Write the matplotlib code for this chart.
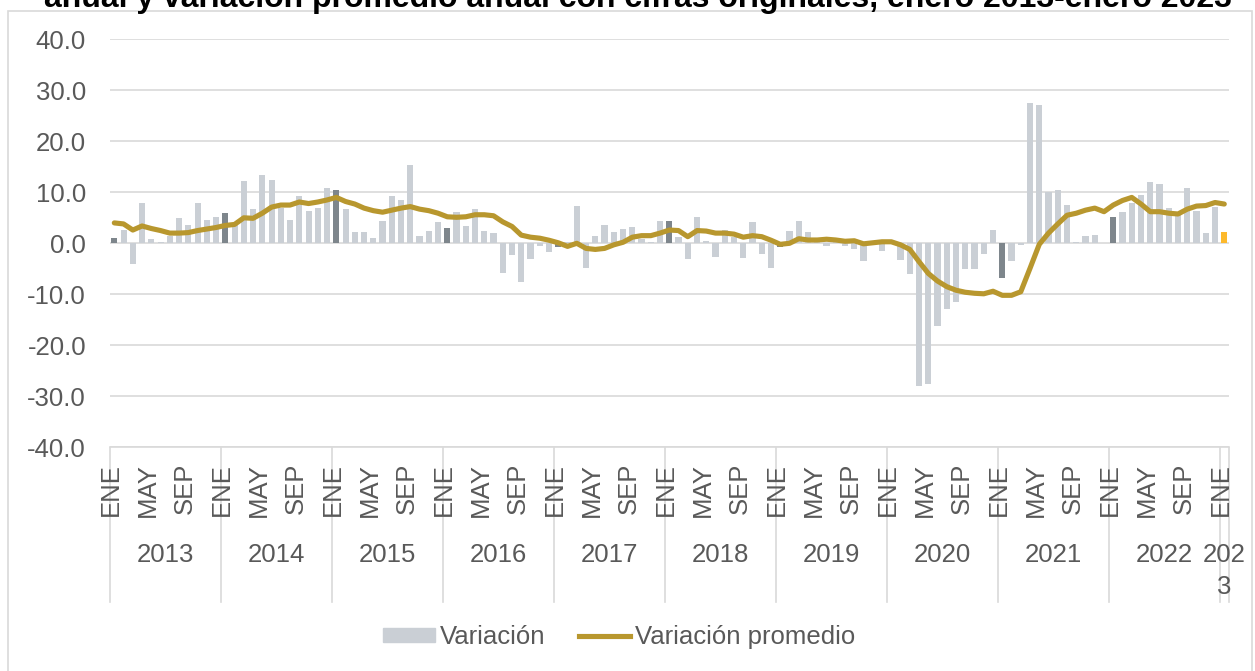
import matplotlib.pyplot as plt
from matplotlib.patches import Rectangle, Patch
from matplotlib.lines import Line2D
from matplotlib.transforms import blended_transform_factory

# Datos
anios = ['2013', '2014', '2015', '2016', '2017', '2018', '2019', '2020', '2021', '2022', '2023']
meses_etiqueta = {0: 'ENE', 4: 'MAY', 8: 'SEP'}

variacion = [
    1.0, 2.7, -4.0, 8.0, 0.9, 0.2, 1.5, 5.0, 3.6, 8.0, 4.6, 5.1,          # 2013
    5.9, 3.5, 12.2, 6.8, 13.3, 12.4, 7.0, 4.6, 9.3, 6.4, 7.0, 10.8,      # 2014
    10.5, 6.7, 2.3, 2.2, 1.0, 4.4, 9.3, 8.4, 15.4, 1.5, 2.5, 4.1,        # 2015
    3.0, 6.1, 3.4, 6.7, 2.5, 2.1, -5.8, -2.2, -7.5, -3.0, -0.5, -1.8,    # 2016
    -0.8, 0.3, 7.3, -4.9, 1.4, 3.6, 2.2, 2.9, 3.1, 0.8, 0.3, 4.4,        # 2017
    4.4, 1.2, -3.0, 5.2, 0.5, -2.6, 2.6, 1.2, -2.8, 4.1, -2.0, -4.9,     # 2018
    -0.8, 2.4, 4.3, 2.2, 0.3, -0.5, 0.2, -0.6, -1.2, -3.4, 0.3, -1.6,    # 2019
    0.2, -3.3, -6.1, -27.9, -27.6, -16.3, -12.9, -11.6, -5.0, -5.1, -2.0, 2.7,  # 2020
    -6.9, -3.4, -0.4, 27.5, 27.1, 10.0, 10.4, 7.6, 0.3, 1.5, 1.6, 0.1,   # 2021
    5.2, 6.1, 8.0, 9.5, 12.0, 11.6, 7.0, 5.5, 10.8, 6.3, 2.0, 7.1,       # 2022
    2.2,                                                                 # 2023
]

variacion_promedio = [
    4.0, 3.8, 2.6, 3.4, 2.9, 2.5, 2.0, 2.0, 2.1, 2.5, 2.8, 3.1,
    3.5, 3.7, 5.0, 4.9, 5.9, 7.1, 7.5, 7.5, 8.1, 7.8, 8.1, 8.5,
    9.0, 8.2, 7.7, 6.9, 6.4, 6.1, 6.5, 6.9, 7.2, 6.7, 6.4, 5.9,
    5.2, 5.1, 5.2, 5.6, 5.6, 5.4, 4.2, 3.3, 1.6, 1.2, 1.0, 0.6,
    0.1, -0.6, 0.0, -1.0, -1.2, -1.0, -0.3, 0.2, 1.2, 1.5, 1.5, 2.0,
    2.6, 2.5, 1.3, 2.5, 2.4, 2.0, 2.0, 1.8, 1.2, 1.5, 1.3, 0.6,
    -0.2, 0.0, 0.9, 0.65, 0.65, 0.8, 0.65, 0.4, 0.5, -0.1, 0.1, 0.3,
    0.3, -0.3, -1.2, -3.6, -5.9, -7.4, -8.5, -9.2, -9.6, -9.8, -9.9, -9.4,
    -10.2, -10.2, -9.5, -4.9, -0.2, 2.0, 3.8, 5.5, 5.9, 6.5, 6.9, 6.2,
    7.5, 8.4, 9.0, 7.7, 6.2, 6.2, 5.9, 5.75, 6.7, 7.3, 7.4, 8.0,
    7.7,
]

titulo = 'anual y variación promedio anual con cifras originales, enero 2013-enero 2023'

# Colores
gris_claro = '#CACFD5'
gris_oscuro = '#7E868C'
naranja = '#FDB92C'
dorado = '#B8972E'
texto = '#595959'
rejilla = '#D9D9D9'

n = len(variacion)
x = list(range(n))
colores = []
for i in x:
    if i == n - 1:
        colores.append(naranja)
    elif i % 12 == 0:
        colores.append(gris_oscuro)
    else:
        colores.append(gris_claro)

plt.rcParams['font.family'] = ['Liberation Sans', 'DejaVu Sans']

fig = plt.figure(figsize=(12.55, 6.71), dpi=100)
ax = fig.add_axes([0.0874, 0.3334, 0.8918, 0.608])

# Marco del grafico
fig.add_artist(Rectangle((8 / 1255, -0.05), 1244 / 1255, 0.05 + 1 - 11 / 671,
                         transform=fig.transFigure, fill=False, edgecolor=rejilla, lw=1.2))

# Titulo (cortado arriba, como en el original)
fig.text(0.508, 1 - 7 / 671, titulo, ha='center', va='baseline',
         fontsize=23, fontweight='bold', color='black')

ax.bar(x, variacion, width=0.66, color=colores, zorder=2)
ax.plot(x, variacion_promedio, color=dorado, lw=3.7, zorder=3, solid_capstyle='round')

ax.set_xlim(-0.5, n - 0.5)
ax.set_ylim(-40, 40)
ax.set_yticks(range(-40, 41, 10))
ax.set_yticklabels(['%.1f' % v for v in range(-40, 41, 10)])
ax.tick_params(axis='y', length=0, pad=17, labelsize=18.5, labelcolor=texto)
ax.set_xticks([])
ax.yaxis.grid(True, color=rejilla, lw=1.2, zorder=0)
ax.set_axisbelow(True)
for s in ['top', 'right', 'left']:
    ax.spines[s].set_visible(False)
ax.spines['bottom'].set_color(rejilla)
ax.spines['bottom'].set_linewidth(1.2)

# Etiquetas de meses y años
trans = blended_transform_factory(ax.transData, fig.transFigure)
for i in x:
    m = i % 12
    if m in meses_etiqueta:
        ax.text(i - 0.35, 1 - 463 / 671, meses_etiqueta[m], rotation=90, ha='center', va='top',
                fontsize=18.5, color=texto, transform=trans)

for k, anio in enumerate(anios):
    inicio = k * 12 - 0.5
    fin = min(inicio + 12, n - 0.5)
    etiqueta = anio if fin - inicio > 1 else '202\n3'
    ax.text((inicio + fin) / 2, 1 - 543 / 671, etiqueta, ha='center', va='top',
            fontsize=18.5, color=texto, transform=trans, linespacing=1.4)
    ax.plot([inicio, inicio], [1 - 448 / 671, 1 - 602 / 671], color=rejilla, lw=1.2,
            transform=trans, clip_on=False)
ax.plot([n - 0.5, n - 0.5], [1 - 448 / 671, 1 - 602 / 671], color=rejilla, lw=1.2,
        transform=trans, clip_on=False)

# Leyenda
handles = [Patch(color=gris_claro, label='Variación'),
           Line2D([0], [0], color=dorado, lw=3.7, label='Variación promedio')]
fig.legend(handles=handles, loc='center', bbox_to_anchor=(0.4936, 1 - 637 / 671), ncol=2,
           frameon=False, fontsize=18.5, labelcolor=texto, handlelength=2.0,
           handleheight=0.45, handletextpad=0.2, columnspacing=1.3)

fig.savefig('out.png', dpi=100)
